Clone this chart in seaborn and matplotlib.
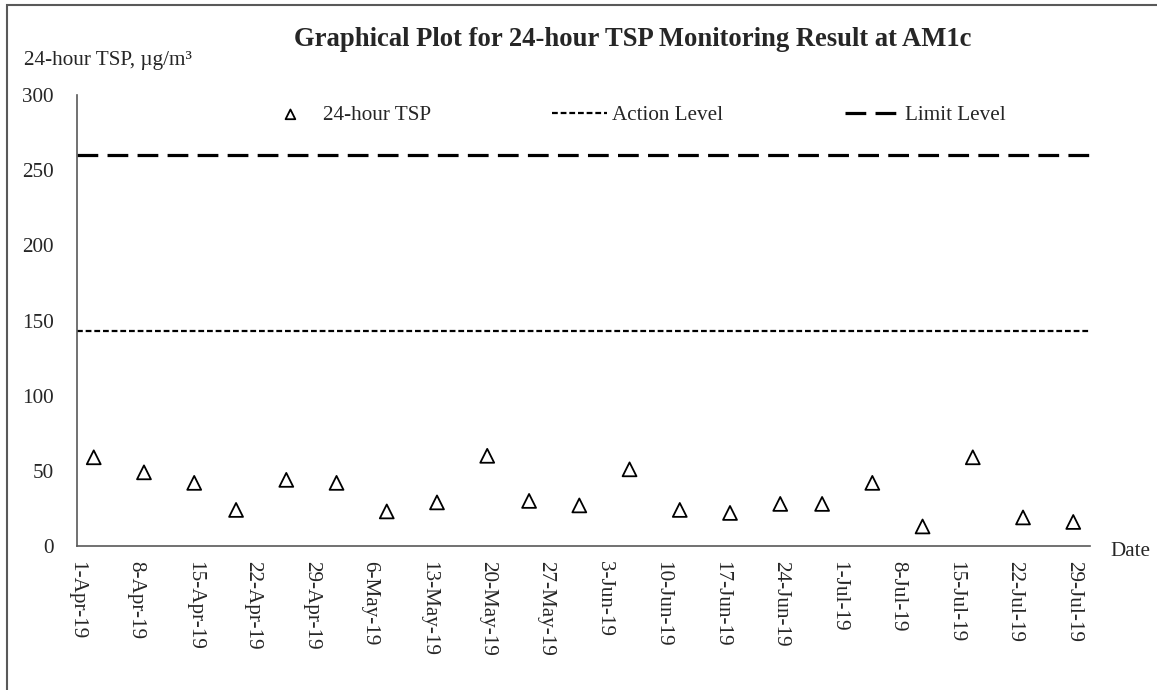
import matplotlib
matplotlib.use("Agg")
import matplotlib.pyplot as plt
import matplotlib.dates as mdates
from matplotlib.patches import Rectangle
import pandas as pd
import seaborn as sns

# 24-hour TSP readings at AM1c
sample_dates = ["2019-04-03", "2019-04-09", "2019-04-15", "2019-04-20", "2019-04-26",
                "2019-05-02", "2019-05-08", "2019-05-14", "2019-05-20", "2019-05-25",
                "2019-05-31", "2019-06-06", "2019-06-12", "2019-06-18", "2019-06-24",
                "2019-06-29", "2019-07-05", "2019-07-11", "2019-07-17", "2019-07-23",
                "2019-07-29"]
tsp_values = [59, 49, 42, 24, 44, 42, 23, 29, 60, 30, 27, 51, 24, 22, 28, 28, 42, 13, 59, 19, 16]
action_level = 143
limit_level = 260

df = pd.DataFrame({"date": pd.to_datetime(sample_dates), "tsp": tsp_values})

sns.set_style("white")
plt.rcParams["font.family"] = ["Liberation Serif", "DejaVu Serif"]
FS = 15.2

fig = plt.figure(figsize=(11.57, 6.9), dpi=100)
ax = fig.add_axes([77 / 1157, 1 - 546 / 690, (1090 - 77) / 1157, (546 - 95) / 690])

sns.scatterplot(data=df, x="date", y="tsp", ax=ax, marker="^", s=100,
                facecolor="none", edgecolor="black", linewidth=1.3,
                label="24-hour TSP", zorder=3)
ax.axhline(action_level, color="black", lw=1.6, dashes=(2.6, 1.3), label="Action Level")
ax.axhline(limit_level, color="black", lw=2.3, dashes=(6.5, 2.9), label="Limit Level")

ax.set_xlim(pd.Timestamp("2019-04-01"), pd.Timestamp("2019-07-31"))
ax.set_ylim(0, 300)
ax.set_yticks(range(0, 301, 50))
ax.set_xticks(pd.date_range("2019-04-01", "2019-07-29", freq="7D"))
ax.xaxis.set_major_formatter(mdates.DateFormatter("%-d-%b-%y"))
ax.set_xlabel("")
ax.set_ylabel("")

for side in ["top", "right"]:
    ax.spines[side].set_visible(False)
for side in ["left", "bottom"]:
    ax.spines[side].set_color("#595959")
    ax.spines[side].set_linewidth(1.2)

ax.tick_params(axis="y", direction="in", length=4, color="#595959", pad=17, labelsize=FS)
ax.tick_params(axis="x", direction="in", length=4, color="#595959", pad=11, labelsize=FS,
               labelrotation=270)
for lbl in ax.get_xticklabels():
    lbl.set_va("top")
    lbl.set_ha("center")

leg = ax.legend(ncol=3, frameon=False, loc="center left",
                bbox_to_anchor=(263 / 1157, 1 - 115 / 690), bbox_transform=fig.transFigure,
                fontsize=FS, handlelength=2.6, handletextpad=0.24, columnspacing=5.75,
                markerscale=0.7, borderpad=0, borderaxespad=0)

fig.text(633 / 1157, 1 - 40 / 690, "Graphical Plot for 24-hour TSP Monitoring Result at AM1c",
         ha="center", va="center", fontsize=19.2, fontweight="bold")
fig.text(24 / 1157, 1 - 60 / 690, "24-hour TSP, µg/m³", ha="left", va="center", fontsize=FS)
fig.text(1110 / 1157, 1 - 551 / 690, "Date", ha="left", va="center", fontsize=FS)

# chart-area border (only left and top edges fall inside the picture)
fig.add_artist(Rectangle((7 / 1157, -0.1), 1.2, 1 - 5 / 690 + 0.1, transform=fig.transFigure,
                         fill=False, edgecolor="#595959", linewidth=1.5))

fig.savefig("out.png", dpi=100)
